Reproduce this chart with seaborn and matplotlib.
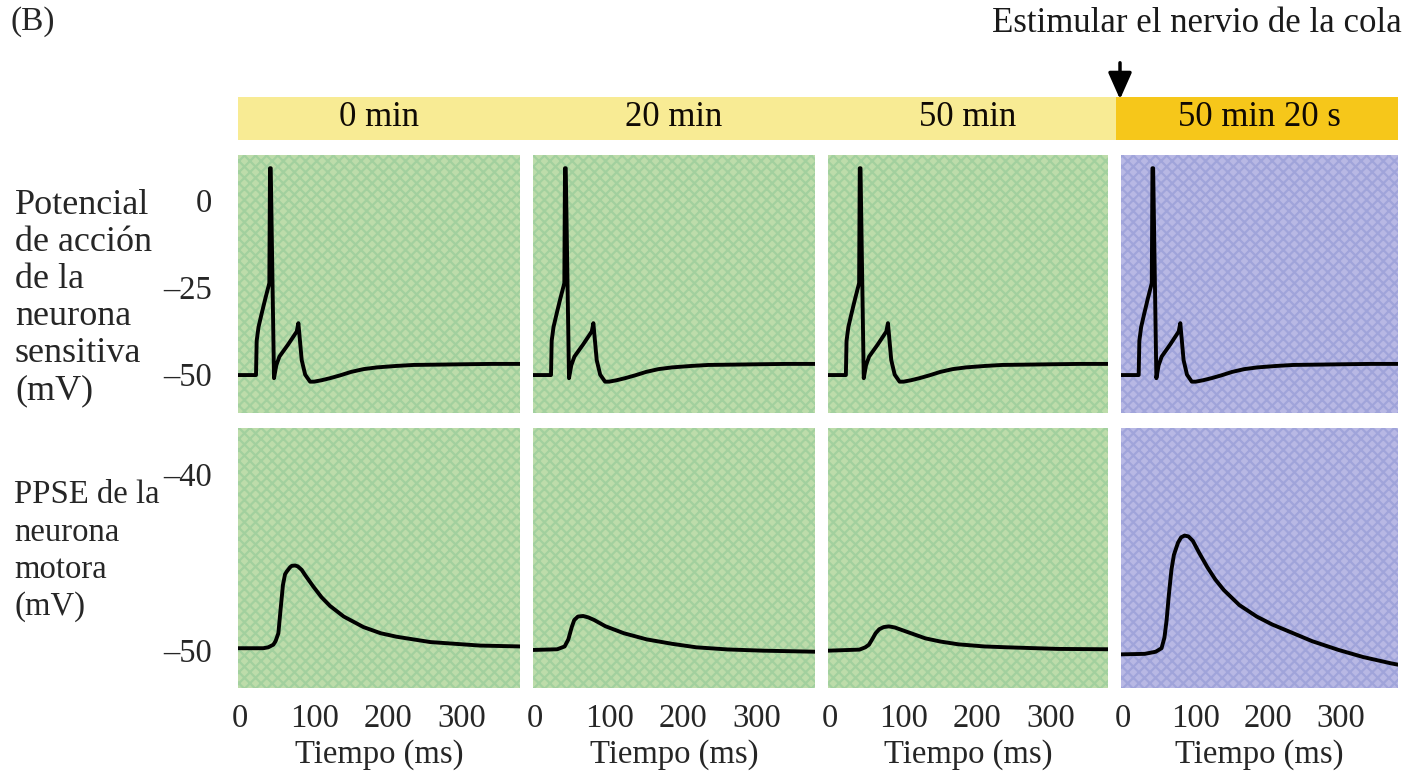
import numpy as np
import pandas as pd
import matplotlib
matplotlib.use("Agg")
import matplotlib.pyplot as plt
import seaborn as sns
from matplotlib.patches import Rectangle, FancyArrowPatch

sns.set_theme(style="white")
plt.rcParams['font.family'] = ['Liberation Serif', 'DejaVu Serif']
plt.rcParams['hatch.linewidth'] = 1.6

# ---------------- data ----------------
conditions = ["0 min", "20 min", "50 min", "50 min 20 s"]

# Action potential of the sensory neuron (mV) vs time (ms)
ap_time = [-3, 21.6, 22.5, 25, 29.3, 34, 39.6, 40.5, 41.5, 45.9, 49, 53.2, 65, 76.6,
           78.8, 83.3, 88, 94.6, 100, 110, 121.6, 135, 150, 166.7, 185, 210, 234, 270,
           302, 340, 380]
ap_mv = [-50.3, -50.3, -40.5, -36.5, -32.6, -28.5, -23.9, 9.1, 9.1, -51.2, -47.5, -45,
         -41.5, -37.8, -35.4, -46, -50.2, -52.2, -52.2, -51.8, -51.2, -50.4, -49.4,
         -48.6, -48.1, -47.7, -47.4, -47.3, -47.2, -47.1, -47.1]

# EPSP of the motor neuron (mV) vs time (ms), one trace per condition
epsp_time_0 = [-3, 0, 31.5, 38, 45, 48, 51.8, 55, 58, 60.8, 63, 67.6, 70, 74.3, 78, 83.3,
               88, 99, 110, 121.6, 140, 166.7, 190, 211.7, 256.8, 324, 380]
epsp_mv_0 = [-49.9, -49.9, -49.9, -49.85, -49.7, -49.5, -49.05, -47.6, -46.3, -45.7,
             -45.55, -45.3, -45.22, -45.2, -45.25, -45.45, -45.75, -46.4, -47.0, -47.5,
             -48.1, -48.7, -49.05, -49.25, -49.55, -49.75, -49.8]

epsp_time_20 = [-3, 30, 40, 45, 49.6, 53, 58, 65, 72, 80, 95, 120, 151, 185, 218, 260,
                308, 380]
epsp_mv_20 = [-50.0, -49.96, -49.8, -49.4, -48.7, -48.3, -48.1, -48.07, -48.15, -48.3,
              -48.65, -49.05, -49.4, -49.65, -49.85, -49.97, -50.04, -50.1]

epsp_time_50 = [-3, 40, 48, 53, 58, 62, 67, 73, 80, 88, 100, 129.7, 150, 174.7, 210,
                242, 310, 380]
epsp_mv_50 = [-50.04, -49.98, -49.85, -49.7, -49.35, -49.05, -48.82, -48.7, -48.66,
              -48.72, -48.9, -49.34, -49.52, -49.68, -49.8, -49.85, -49.94, -49.96]

epsp_time_5020 = [-3, 30, 45, 53, 57, 60, 63, 66.6, 70, 75.7, 80, 84.7, 90, 96, 105, 116,
                  127, 138.7, 160, 183.8, 205, 228.8, 260, 296.4, 330, 368.5, 380]
epsp_mv_5020 = [-50.25, -50.22, -50.1, -49.9, -49.3, -48.3, -46.9, -45.45, -44.6, -43.9,
                -43.6, -43.5, -43.55, -43.8, -44.5, -45.3, -46.0, -46.6, -47.45, -48.1,
                -48.55, -48.96, -49.5, -50.0, -50.4, -50.76, -50.85]

epsp_series = [(epsp_time_0, epsp_mv_0), (epsp_time_20, epsp_mv_20),
               (epsp_time_50, epsp_mv_50), (epsp_time_5020, epsp_mv_5020)]

x_ticks = [0, 100, 200, 300]
ap_ticks = [0, -25, -50]
epsp_ticks = [-40, -50]

row_labels = ["Potencial\nde acción\nde la\nneurona\nsensitiva\n(mV)",
              "PPSE de la\nneurona\nmotora\n(mV)"]
x_label = "Tiempo (ms)"
stim_label = "Estimular el nervio de la cola"
panel_label = "(B)"

# ---------------- layout ----------------
W, H = 1414, 782
fig = plt.figure(figsize=(W / 100, H / 100), dpi=100)
fig.patch.set_facecolor("white")

def fx(px):
    return px / W

def fy(py):
    return 1 - py / H

col_left = [238, 533, 828, 1121]
col_width = [282, 282, 280, 277]
rows = [(155, 413), (428, 688)]

green = "#bddcaa"
green_h = "#a2d09e"
purple = "#b8b8e4"
purple_h = "#a0a4da"

TICK_FS = 23.5

def fmt(v):
    return str(v).replace("-", "\u2013")

for c in range(4):
    bg, hc = (green, green_h) if c < 3 else (purple, purple_h)
    for r, (top, bot) in enumerate(rows):
        ax = fig.add_axes([fx(col_left[c]), fy(bot), fx(col_width[c]), (bot - top) / H])
        ax.set_facecolor(bg)
        ax.add_patch(Rectangle((0, 0), 1, 1, transform=ax.transAxes, facecolor="none",
                               edgecolor=hc, hatch="xxx", lw=0, zorder=0))
        if r == 0:
            df = pd.DataFrame({"t": ap_time, "v": ap_mv})
            ylim = (-61.2, 12.9)
            yt = ap_ticks
        else:
            df = pd.DataFrame({"t": epsp_series[c][0], "v": epsp_series[c][1]})
            ylim = (-52.16, -37.39)
            yt = epsp_ticks
        sns.lineplot(data=df, x="t", y="v", ax=ax, color="black", lw=2.8,
                     estimator=None, sort=False, zorder=3)
        ax.lines[-1].set_solid_joinstyle("round")
        ax.set_xlim(-2.7, 378)
        ax.set_ylim(*ylim)
        ax.set_xlabel("")
        ax.set_ylabel("")
        for s in ax.spines.values():
            s.set_visible(False)
        ax.tick_params(length=0)
        if r == 1:
            ax.set_xticks(x_ticks, labels=[fmt(v) for v in x_ticks])
            ax.tick_params(axis="x", labelsize=TICK_FS, pad=11)
            ax.set_xlabel(x_label, fontsize=TICK_FS, labelpad=4)
        else:
            ax.set_xticks([])
        if c == 0:
            ax.set_yticks(yt, labels=[fmt(v) for v in yt])
            ax.tick_params(axis="y", labelsize=TICK_FS, pad=19)
        else:
            ax.set_yticks([])
        ax.grid(False)

# header bars
fig.add_artist(Rectangle((fx(238), fy(140)), fx(1116 - 238), 43 / H,
                         transform=fig.transFigure, facecolor="#f8eb94", lw=0))
fig.add_artist(Rectangle((fx(1116), fy(140)), fx(1398 - 1116), 43 / H,
                         transform=fig.transFigure, facecolor="#f6c71a", lw=0))
for c, name in enumerate(conditions):
    cx = col_left[c] + col_width[c] / 2
    fig.text(fx(cx), fy(118), name, ha="center", va="center", fontsize=25,
             color="#100a04")

# stimulus annotation
fig.text(fx(1402), fy(24), stim_label, ha="right", va="center", fontsize=25,
         color="#1a1a1a")
fig.add_artist(FancyArrowPatch(
    (fx(1120), fy(60)), (fx(1120), fy(102)), transform=fig.transFigure,
    arrowstyle="-|>,head_length=0.9,head_width=0.4", color="black", lw=2.5,
    mutation_scale=18))

# panel label
fig.text(fx(10), fy(22), panel_label, ha="left", va="center", fontsize=24)

# row labels
fig.text(fx(15), fy(298), row_labels[0], ha="left", va="center", fontsize=26,
         linespacing=1.16)
fig.text(fx(14), fy(551), row_labels[1], ha="left", va="center", fontsize=23.6,
         linespacing=1.28)

fig.savefig("out.png", dpi=100)
